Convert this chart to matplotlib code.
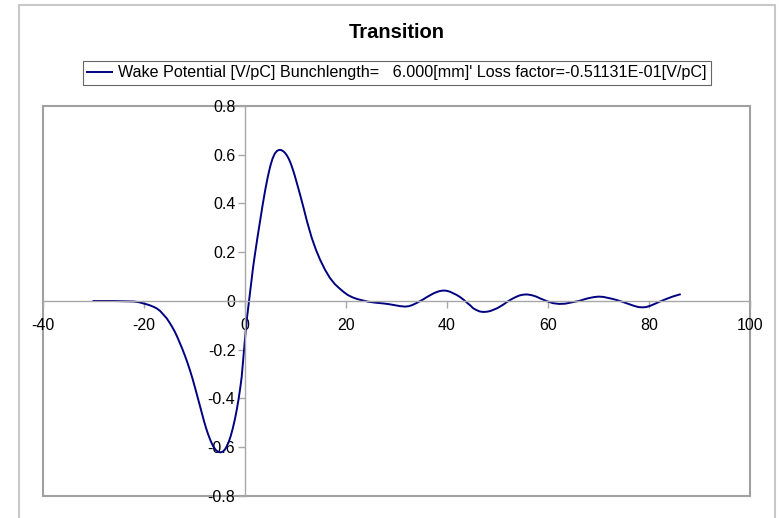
import matplotlib.pyplot as plt
from matplotlib.patches import Rectangle

# wake potential samples, s [mm] vs W [V/pC]
s = [-30.0, -26.0, -22.0, -21.0, -20.1, -19.4, -18.8, -18.1, -17.5, -16.8, -16.2,
     -15.5, -14.9, -14.4, -13.9, -13.4, -12.9, -12.4, -11.9, -11.4, -10.9, -10.4,
     -9.9, -9.4, -8.9, -8.5, -8.1, -7.7, -7.3, -6.8, -6.3, -5.8, -5.3, -4.8, -4.4,
     -4.0, -3.6, -3.2, -2.8, -2.4, -2.0, -1.65, -1.3, -0.95, -0.65, -0.2, 0.3, 0.8,
     1.3, 1.6, 2.0, 2.5, 3.0, 3.5, 4.0, 4.5, 5.0, 5.45, 5.9, 6.35, 6.8, 7.2, 7.6,
     7.95, 8.3, 8.7, 9.1, 9.5, 9.9, 10.3, 10.7, 11.1, 11.5, 11.9, 12.3, 12.75, 13.2,
     14.05, 14.9, 15.85, 16.8, 17.8, 18.8, 19.6, 20.4, 21.4, 22.4, 23.4, 24.4, 25.9,
     27.4, 28.5, 29.6, 30.7, 31.7, 32.5, 33.2, 34.0, 34.7, 35.4, 36.0, 36.7, 37.3,
     38.0, 38.6, 39.3, 39.9, 40.6, 41.2, 41.9, 42.6, 43.3, 43.9, 44.6, 45.2, 45.9,
     46.5, 47.2, 47.9, 48.6, 49.2, 49.9, 50.5, 51.2, 51.8, 52.5, 53.1, 53.8, 54.4,
     55.1, 55.8, 56.5, 57.1, 57.8, 58.4, 59.1, 59.7, 60.4, 61.0, 62.2, 63.4, 64.9,
     66.3, 67.2, 68.1, 69.1, 70.0, 70.9, 71.8, 72.7, 73.6, 74.7, 75.8, 76.9, 77.9,
     78.7, 79.4, 80.2, 80.9, 82.2, 83.5, 84.8, 86.1]
w = [0.0, 0.0, -0.002, -0.005, -0.01, -0.014, -0.018, -0.024, -0.03, -0.041, -0.055,
     -0.071, -0.09, -0.107, -0.126, -0.148, -0.172, -0.197, -0.224, -0.253, -0.284,
     -0.318, -0.355, -0.394, -0.433, -0.464, -0.494, -0.522, -0.547, -0.574, -0.596,
     -0.611, -0.619, -0.621, -0.618, -0.61, -0.596, -0.577, -0.552, -0.521, -0.485,
     -0.448, -0.406, -0.358, -0.31, -0.205, -0.085, 0.0, 0.086, 0.138, 0.196, 0.265,
     0.33, 0.395, 0.455, 0.508, 0.553, 0.584, 0.605, 0.616, 0.62, 0.619, 0.614,
     0.607, 0.597, 0.582, 0.562, 0.538, 0.511, 0.482, 0.452, 0.421, 0.39, 0.357,
     0.325, 0.292, 0.26, 0.21, 0.168, 0.128, 0.095, 0.069, 0.05, 0.036, 0.024,
     0.014, 0.007, 0.002, -0.003, -0.007, -0.01, -0.013, -0.017, -0.021, -0.023,
     -0.021, -0.016, -0.008, 0.0, 0.008, 0.016, 0.024, 0.031, 0.037, 0.041, 0.043,
     0.042, 0.038, 0.032, 0.025, 0.016, 0.005, -0.006, -0.018, -0.03, -0.038,
     -0.043, -0.045, -0.044, -0.041, -0.036, -0.03, -0.023, -0.014, -0.005, 0.004,
     0.011, 0.018, 0.023, 0.026, 0.027, 0.025, 0.022, 0.017, 0.011, 0.005, 0.0,
     -0.005, -0.009, -0.012, -0.011, -0.005, 0.001, 0.007, 0.012, 0.016, 0.018,
     0.017, 0.013, 0.009, 0.004, -0.003, -0.011, -0.019, -0.025, -0.026, -0.025,
     -0.02, -0.014, -0.002, 0.009, 0.019, 0.027]

xticks = [-40, -20, 0, 20, 40, 60, 80, 100]
yticks = [-0.8, -0.6, -0.4, -0.2, 0, 0.2, 0.4, 0.6, 0.8]
ylabels = ["-0.8", "-0.6", "-0.4", "-0.2", "0", "0.2", "0.4", "0.6", "0.8"]
label = "Wake Potential [V/pC] Bunchlength=   6.000[mm]' Loss factor=-0.51131E-01[V/pC]"

plt.rcParams['font.family'] = ['Liberation Sans', 'DejaVu Sans']

W, H = 781, 518
fig = plt.figure(figsize=(W / 100, H / 100), dpi=100)

# chart area frame
fig.patches.append(Rectangle((19 / W, -0.05), 756 / W, 1 - 5 / H + 0.05,
                             transform=fig.transFigure, fill=False,
                             edgecolor='#c8c8c8', linewidth=1.5))

ax = fig.add_axes([43 / W, 1 - 496 / H, 707 / W, 390 / H])
ax.plot(s, w, color='#000080', linewidth=1.4, label=label,
        solid_joinstyle='round')

ax.set_xlim(-40, 100)
ax.set_ylim(-0.8, 0.8)
ax.set_xticks(xticks)
ax.set_xticklabels([str(t) for t in xticks])
ax.set_yticks(yticks)
ax.set_yticklabels(ylabels)

ax.spines['left'].set_position(('data', 0))
ax.spines['bottom'].set_position(('data', 0))
ax.spines['right'].set_visible(False)
ax.spines['top'].set_visible(False)
for sp in ('left', 'bottom'):
    ax.spines[sp].set_color('#a8a8a8')
    ax.spines[sp].set_linewidth(1.0)
ax.tick_params(axis='both', direction='out', length=5, width=1,
               color='#a8a8a8', labelsize=11.5, labelcolor='black')
ax.tick_params(axis='y', pad=2)
ax.tick_params(axis='x', pad=7)

# plot area border
ax.add_patch(Rectangle((0, 0), 1, 1, transform=ax.transAxes, fill=False,
                       edgecolor='#a0a0a0', linewidth=1.5, clip_on=False))

fig.text(397 / W, 1 - 32 / H, "Transition", ha='center', va='center',
         fontsize=14.5, fontweight='bold')

leg = fig.legend(loc='center', bbox_to_anchor=(397 / W, 1 - 73 / H),
                 frameon=True, fancybox=False, fontsize=11.6,
                 handlelength=1.5, handletextpad=0.4, borderpad=0.25)
leg.get_frame().set_edgecolor('#404040')
leg.get_frame().set_linewidth(0.8)

fig.savefig('out.png', dpi=100)
